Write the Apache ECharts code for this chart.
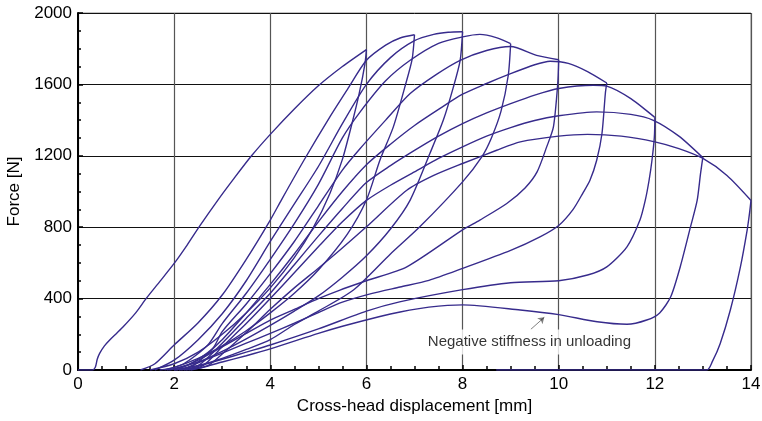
<!DOCTYPE html>
<html>
<head>
<meta charset="utf-8">
<script src="https://cdn.jsdelivr.net/npm/echarts@6/dist/echarts.min.js"></script>
<style>
  html, body { margin: 0; padding: 0; background: #fff; }
  #chart { width: 762px; height: 421px; }
</style>
</head>
<body>
<div id="chart"></div>
<script>
// cross-head displacement [mm], force [N]
var load1 = [[0,0],[0.3,0],[0.36,15],[0.4,60],[0.45,93],[0.55,135],[0.66,168],[0.8,205],[0.94,242],[1.2,320],[1.42,401],[1.7,495],[2.0,597],[2.27,700],[2.53,806],[2.91,952],[3.25,1075],[3.61,1200],[4,1320],[4.5,1462],[5,1592],[5.5,1700],[6,1795]];
var unload1 = [[6,1795],[5.97,1717],[5.85,1550],[5.69,1371],[5.5,1180],[5.24,989],[4.9,800],[4.5,630],[4,460],[3.5,320],[3,200],[2.5,100],[2,35],[1.5,0]];

var load2 = [[1.3,0],[1.6,35],[2,140],[2.5,265],[3,420],[3.5,620],[4,840],[4.23,952],[4.7,1175],[5.24,1418],[5.6,1570],[6,1735],[6.4,1820],[6.7,1860],[7,1878]];
var unload2 = [[7,1878],[6.95,1740],[6.8,1586],[6.56,1362],[6.28,1175],[6,952],[5.6,760],[5,560],[4.5,430],[4,320],[3.5,220],[3,135],[2.5,65],[2,15],[1.7,0]];

var load3 = [[1.6,0],[2,55],[2.5,170],[3,315],[3.5,500],[4,720],[4.5,930],[5,1140],[5.5,1380],[6,1600],[6.5,1750],[7,1845],[7.4,1880],[7.7,1892],[8,1895]];
var unload3 = [[8,1895],[7.95,1735],[7.81,1586],[7.6,1400],[7.32,1213],[6.91,952],[6.5,790],[6,640],[5.5,520],[5,415],[4.5,330],[4,250],[3.5,175],[3,105],[2.5,45],[2,8],[1.85,0]];

var load4 = [[1.8,0],[2.2,35],[2.7,140],[3,260],[3.5,430],[4,620],[4.5,820],[5,1040],[5.5,1300],[5.87,1446],[6.4,1620],[6.91,1735],[7.5,1830],[8,1866],[8.36,1880],[8.7,1862],[9,1828]];
var unload4 = [[9,1828],[8.95,1650],[8.8,1450],[8.6,1300],[8.4,1194],[8,1054],[7.11,802],[6.5,650],[5.73,448],[5,330],[4.5,255],[4,170],[3.5,115],[3,65],[2.5,25],[2,0]];

var load5 = [[1.9,0],[2.3,30],[2.8,120],[3,215],[3.5,370],[4,540],[4.5,720],[5,920],[5.5,1120],[5.87,1241],[6.4,1400],[6.91,1549],[7.45,1655],[7.95,1735],[8.5,1790],[9,1812],[9.54,1763],[10,1738]];
var unload5 = [[10,1738],[9.98,1605],[9.89,1362],[9.75,1250],[9.55,1110],[9.3,1020],[8.92,933],[8.36,840],[8,785],[6.84,578],[6,500],[5.45,448],[5,400],[4.5,340],[4,280],[3.5,205],[3,130],[2.5,55],[2.05,0]];

var load6 = [[2,0],[2.4,25],[3,170],[3.5,320],[4,480],[4.5,650],[5,830],[5.5,1000],[6,1150],[6.5,1265],[7,1370],[7.5,1460],[8,1545],[8.5,1605],[9,1660],[9.5,1710],[9.82,1730],[10.2,1718],[10.6,1672],[11,1608]];
var unload6 = [[11,1608],[10.97,1549],[10.9,1325],[10.79,1175],[10.65,1063],[10.5,990],[10.3,900],[10,810],[9.61,746],[9,670],[8,569],[7.3,502],[6.7,465],[6.1,428],[5.5,380],[5,322],[4.5,262],[4,205],[3.5,150],[3,95],[2.5,40],[2.15,0]];

var load7 = [[2.1,0],[2.5,25],[3,150],[3.5,290],[4,430],[4.5,590],[5,750],[5.5,905],[6,1050],[6.5,1145],[7,1230],[7.5,1310],[8,1380],[8.5,1440],[9,1492],[9.5,1540],[10,1577],[10.72,1595],[11,1590],[11.5,1520],[12,1415]];
var unload7 = [[12,1415],[11.99,1306],[11.94,1175],[11.88,1063],[11.8,950],[11.69,840],[11.42,690],[11,578],[10.6,532],[10,500],[9,489],[8,450],[6.69,382],[6,330],[5,230],[4,140],[3.5,100],[3,60],[2.5,20],[2.25,0]];

var load8 = [[2.2,0],[2.6,25],[3,130],[3.5,260],[4,400],[4.5,545],[5,690],[5.5,830],[6,950],[6.5,1035],[7,1110],[7.5,1185],[8,1250],[8.5,1310],[9,1358],[9.5,1398],[10,1424],[10.79,1446],[11.5,1432],[11.97,1399],[12.5,1310],[12.98,1194]];
var unload8 = [[13,1195],[12.95,1100],[12.88,950],[12.74,800],[12.53,580],[12.33,410],[12.1,320],[11.83,280],[11.42,256],[10.8,270],[10,310],[9.2,336],[8,365],[7.3,352],[6.7,325],[6.28,300],[5.5,245],[5,205],[4,118],[3.5,80],[3,45],[2.6,15],[2.35,0]];

var load9 = [[2.3,0],[2.7,25],[3,90],[3.5,210],[4,340],[4.5,460],[5,570],[5.45,672],[6,802],[6.84,1007],[7.4,1090],[8,1157],[8.71,1231],[9.2,1278],[10,1310],[10.6,1320],[11.3,1310],[12,1278],[12.5,1240],[13,1185],[13.5,1090],[14,950]];
var unload9 = [[14,950],[13.97,880],[13.92,784],[13.78,578],[13.57,336],[13.36,149],[13.2,50],[13.08,0],[8.7,0]];

var xTicks = [0, 2, 4, 6, 8, 10, 12, 14];
var yTicks = [0, 400, 800, 1200, 1600, 2000];
var noteText = 'Negative stiffness in unloading';
var notePoint = [9.39, 157];
var arrowFrom = [9.42, 228];
var arrowTo = [9.70, 295];

var curves = [load1, unload1, load2, unload2, load3, unload3, load4, unload4, load5, unload5,
              load6, unload6, load7, unload7, load8, unload8, load9, unload9];

var font = 'Liberation Sans, Arial, Helvetica, sans-serif';
var curveColor = '#372b8c';

var myChart = echarts.init(document.getElementById('chart'));

var series = curves.map(function (c, i) {
  return {
    name: (i % 2 === 0 ? 'loading ' : 'unloading ') + (Math.floor(i / 2) + 1),
    type: 'line',
    data: c,
    showSymbol: false,
    smooth: 0.25,
    lineStyle: { color: curveColor, width: 1.4 },
    z: 3,
    silent: true,
  };
});

series.push({
  type: 'scatter',
  data: [notePoint],
  symbolSize: 0,
  z: 5,
  label: {
    show: true,
    position: 'inside',
    formatter: noteText,
    color: '#000',
    fontSize: 15,
    fontFamily: font,
    backgroundColor: '#fff',
    padding: [5, 3],
  },
});

series.push({
  type: 'lines',
  coordinateSystem: 'cartesian2d',
  data: [{ coords: [arrowFrom, arrowTo] }],
  symbol: ['none', 'arrow'],
  symbolSize: 6,
  lineStyle: { color: '#000', width: 1 },
  z: 5,
});

var option = {
  backgroundColor: '#fff',
  animation: false,
  grid: {
    left: 78, right: 11, top: 13, bottom: 51,
    containLabel: false,
    outerBoundsMode: 'none',
    show: true, borderColor: '#888', borderWidth: 1,
  },
  xAxis: {
    type: 'value',
    min: xTicks[0],
    max: xTicks[xTicks.length - 1],
    interval: 2,
    name: 'Cross-head displacement [mm]',
    nameLocation: 'middle',
    nameGap: 20,
    nameTextStyle: { color: '#000', fontSize: 17, fontFamily: font },
    axisLine: { lineStyle: { color: '#000', width: 2 } },
    axisTick: { inside: true, length: 5, lineStyle: { color: '#000', width: 1.5 } },
    minorTick: { show: true, splitNumber: 4, length: 4, lineStyle: { color: '#000', width: 1.5 } },
    axisLabel: { color: '#000', fontSize: 17, fontFamily: font, margin: 6,
      formatter: function (v) { return String(v); } },
    splitLine: { show: true, lineStyle: { color: '#555', width: 1.2 } },
  },
  yAxis: {
    type: 'value',
    min: yTicks[0],
    max: yTicks[yTicks.length - 1],
    interval: 400,
    name: 'Force [N]',
    nameLocation: 'middle',
    nameGap: 55,
    nameTextStyle: { color: '#000', fontSize: 17, fontFamily: font },
    axisLine: { show: true, lineStyle: { color: '#000', width: 2 } },
    axisTick: { show: true, inside: true, length: 5, lineStyle: { color: '#000', width: 1.5 } },
    minorTick: { show: true, splitNumber: 4, length: 3, lineStyle: { color: '#000', width: 1.5 } },
    axisLabel: { color: '#000', fontSize: 17, fontFamily: font, margin: 6,
      formatter: function (v) { return String(v); } },
    splitLine: { show: true, lineStyle: { color: '#111', width: 1 } },
  },
  series: series,
};

myChart.setOption(option);
</script>
</body>
</html>
